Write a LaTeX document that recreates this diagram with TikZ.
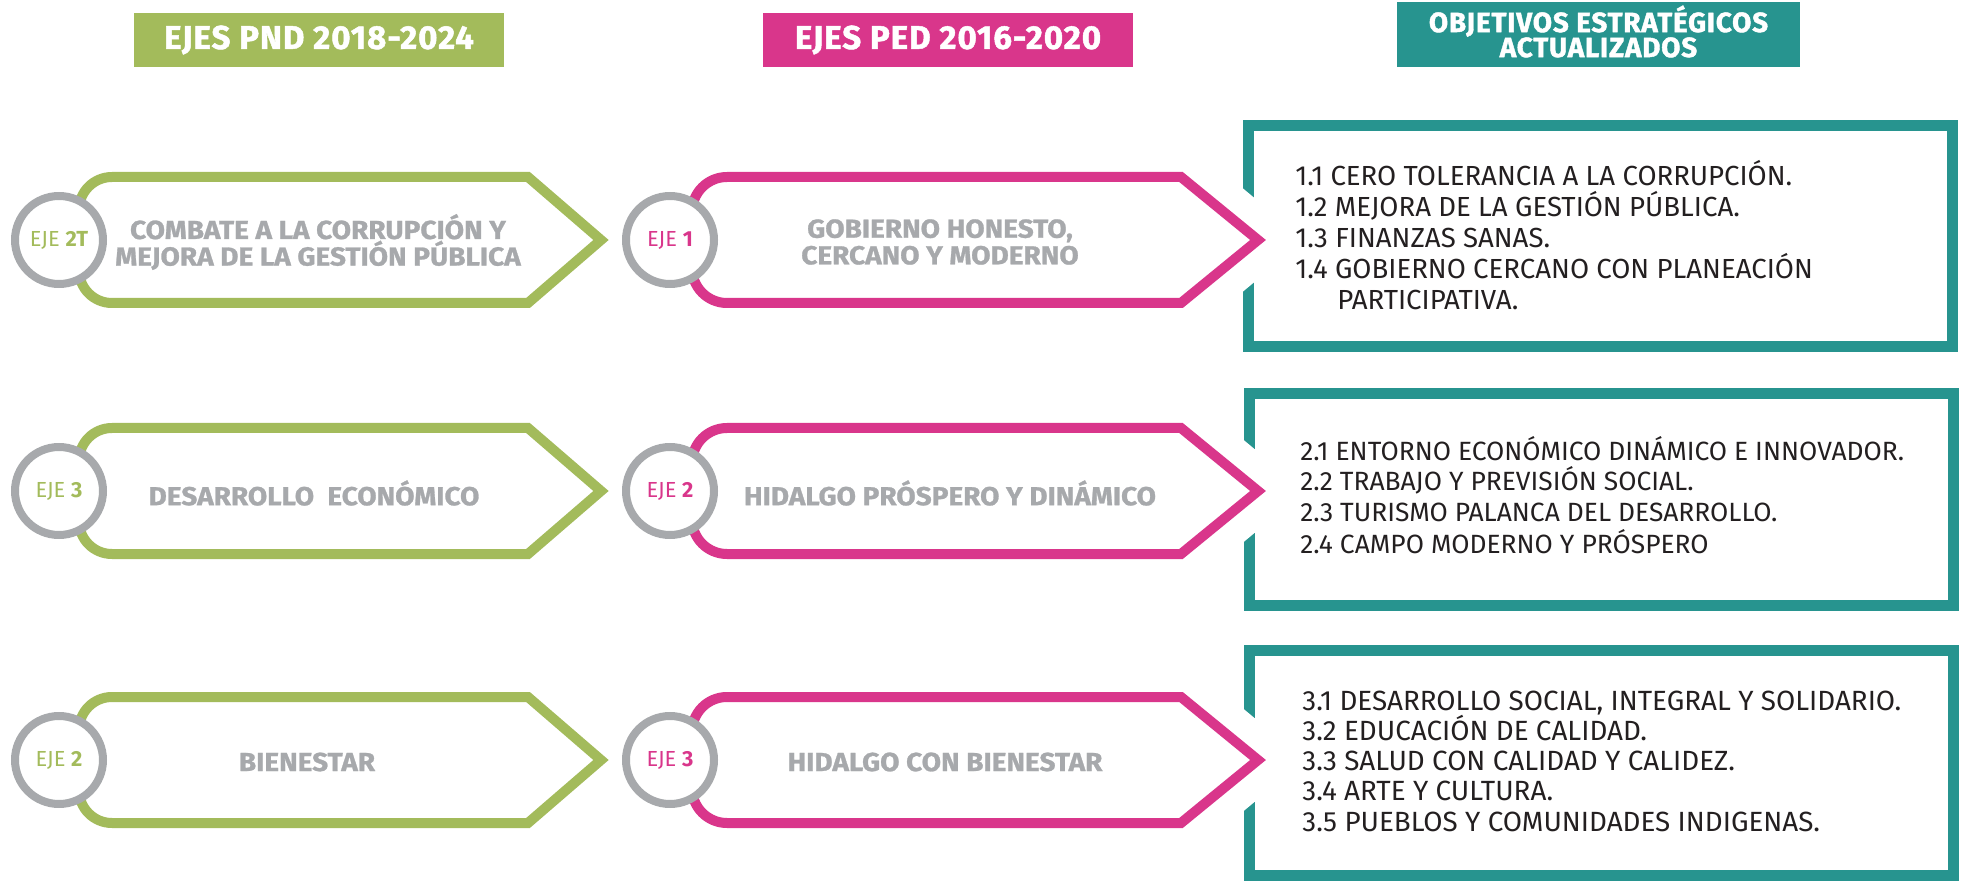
\documentclass[tikz,border=0pt]{standalone}
\usepackage{fontspec}
\setmainfont{Fira Sans}
\newfontfamily\headfont[LetterSpace=3, BoldFeatures={FakeBold=1.5}]{Fira Sans}
\newfontfamily\labelfont[FakeStretch=1.077, BoldFeatures={FakeBold=1}]{Fira Sans}
\newfontfamily\ejefont{Fira Sans}
\newfontfamily\objfont{Fira Sans}
\usetikzlibrary{positioning}
\definecolor{pndgreen}{HTML}{A3BB5B}
\definecolor{pedpink}{HTML}{D9368B}
\definecolor{objteal}{HTML}{27948F}
\definecolor{ringgray}{HTML}{A7A9AC}
\definecolor{textgray}{HTML}{A7A9AC}
\definecolor{objtext}{HTML}{231F20}

\tikzset{
  header/.style={fill=#1, text=white, inner sep=0pt, align=center,
    font=\headfont\bfseries\fontsize{16.5}{17}\selectfont},
  ring/.style={circle, draw=ringgray, line width=4pt, fill=white,
    minimum size=44pt, inner sep=0pt, text=#1,
    font=\ejefont\fontsize{10.9}{12}\selectfont},
  ejelabel/.style={text=textgray, align=center,
    font=\labelfont\bfseries\fontsize{13}{13.3}\selectfont},
  objline/.style={anchor=base west, inner sep=0pt, text=objtext},
  axisline/.style={line width=5pt, fill=white},
  objbox/.style={draw=objteal, line width=5.5pt},
}

\begin{document}
\begin{tikzpicture}[x=0.5pt, y=-0.5pt]
    \useasboundingbox (0,0) rectangle (1963,881);

    % Column headers
    \node[header=pndgreen, minimum width=185pt, minimum height=27pt] (pnd) at (319,40) {EJES PND 2018-2024};
    \node[header=pedpink, minimum width=185pt, minimum height=27pt] (ped) at (948,40) {EJES PED 2016-2020};
    \node[header=objteal, minimum width=201.5pt, minimum height=32.5pt] (obj) at (1598.5,34.5) {};
    \node[header=objteal, font=\headfont\bfseries\fontsize{13.9}{12.5}\selectfont]
        (objtxt) at ([yshift=1.5pt]obj.center) {OBJETIVOS ESTRATÉGICOS\\ACTUALIZADOS};

    % Boxes of objectives
    \draw[objbox] (1248,126) rectangle (1952,347);
    \draw[objbox] (1249,394) rectangle (1953,605);
    \draw[objbox] (1249,650) rectangle (1953,875);

    % Axes, one row each
    \foreach \y/\gx/\px/\gnum/\pnum/\glab/\plab in {
        240/318/940/2T/1/{COMBATE A LA CORRUPCIÓN Y\\MEJORA DE LA GESTIÓN PÚBLICA}/{GOBIERNO HONESTO,\\CERCANO Y MODERNO},
        491/314/950/3/2/{DESARROLLO~ ECONÓMICO}/{HIDALGO PRÓSPERO Y DINÁMICO},
        760/307/945/2/3/{BIENESTAR}/{HIDALGO CON BIENESTAR}} {
        % white cut where the tip enters the box
        \draw[white, line width=30pt, line join=round] (1216,\y-35) -- (1258,\y) -- (1216,\y+35);
        \draw[axisline, draw=pndgreen] (300,\y-63) -- (528,\y-63) -- (601,\y) -- (528,\y+63) -- (300,\y+63)
            [rounded corners=16.5pt] -- (79,\y+63) -- (79,\y-63) -- cycle;
        \draw[axisline, draw=pedpink] (900,\y-63) -- (1181,\y-63) -- (1258,\y) -- (1181,\y+63) -- (900,\y+63)
            [rounded corners=17.5pt] -- (692,\y+63) -- (692,\y-63) -- cycle;
        \node[ring=pndgreen] (pndeje\gnum) at (59,\y) {EJE \textbf{\gnum}};
        \node[ring=pedpink] (pedeje\pnum) at (670,\y) {EJE \textbf{\pnum}};
        \node[ejelabel] (pndlab\gnum) at (\gx,\y+2) {\glab};
        \node[ejelabel] (pedlab\pnum) at (\px,\y+2) {\plab};
    }

    % Objectives
    \foreach \t [count=\i from 0] in {1.1 CERO TOLERANCIA A LA CORRUPCIÓN., 1.2 MEJORA DE LA GESTIÓN PÚBLICA.,
        1.3 FINANZAS SANAS., 1.4 GOBIERNO CERCANO CON PLANEACIÓN, \hspace*{21pt}PARTICIPATIVA.}
        \node[objline, font=\objfont\fontsize{13.8}{14}\selectfont] (obja\i) at (1295,186+31*\i) {\t};
    \foreach \t [count=\i from 0] in {2.1 ENTORNO ECONÓMICO DINÁMICO E INNOVADOR., 2.2 TRABAJO Y PREVISIÓN SOCIAL.,
        2.3 TURISMO PALANCA DEL DESARROLLO., 2.4 CAMPO MODERNO Y PRÓSPERO}
        \node[objline, font=\objfont\fontsize{13.2}{14}\selectfont] (objb\i) at (1300,460+31*\i) {\t};
    \foreach \t [count=\i from 0] in {{3.1 DESARROLLO SOCIAL, INTEGRAL Y SOLIDARIO.}, 3.2 EDUCACIÓN DE CALIDAD.,
        3.3 SALUD CON CALIDAD Y CALIDEZ., 3.4 ARTE Y CULTURA., 3.5 PUEBLOS Y COMUNIDADES INDIGENAS.}
        \node[objline, font=\objfont\fontsize{13.9}{14}\selectfont] (objc\i) at (1302,710+30.3*\i) {\t};
\end{tikzpicture}
\end{document}
